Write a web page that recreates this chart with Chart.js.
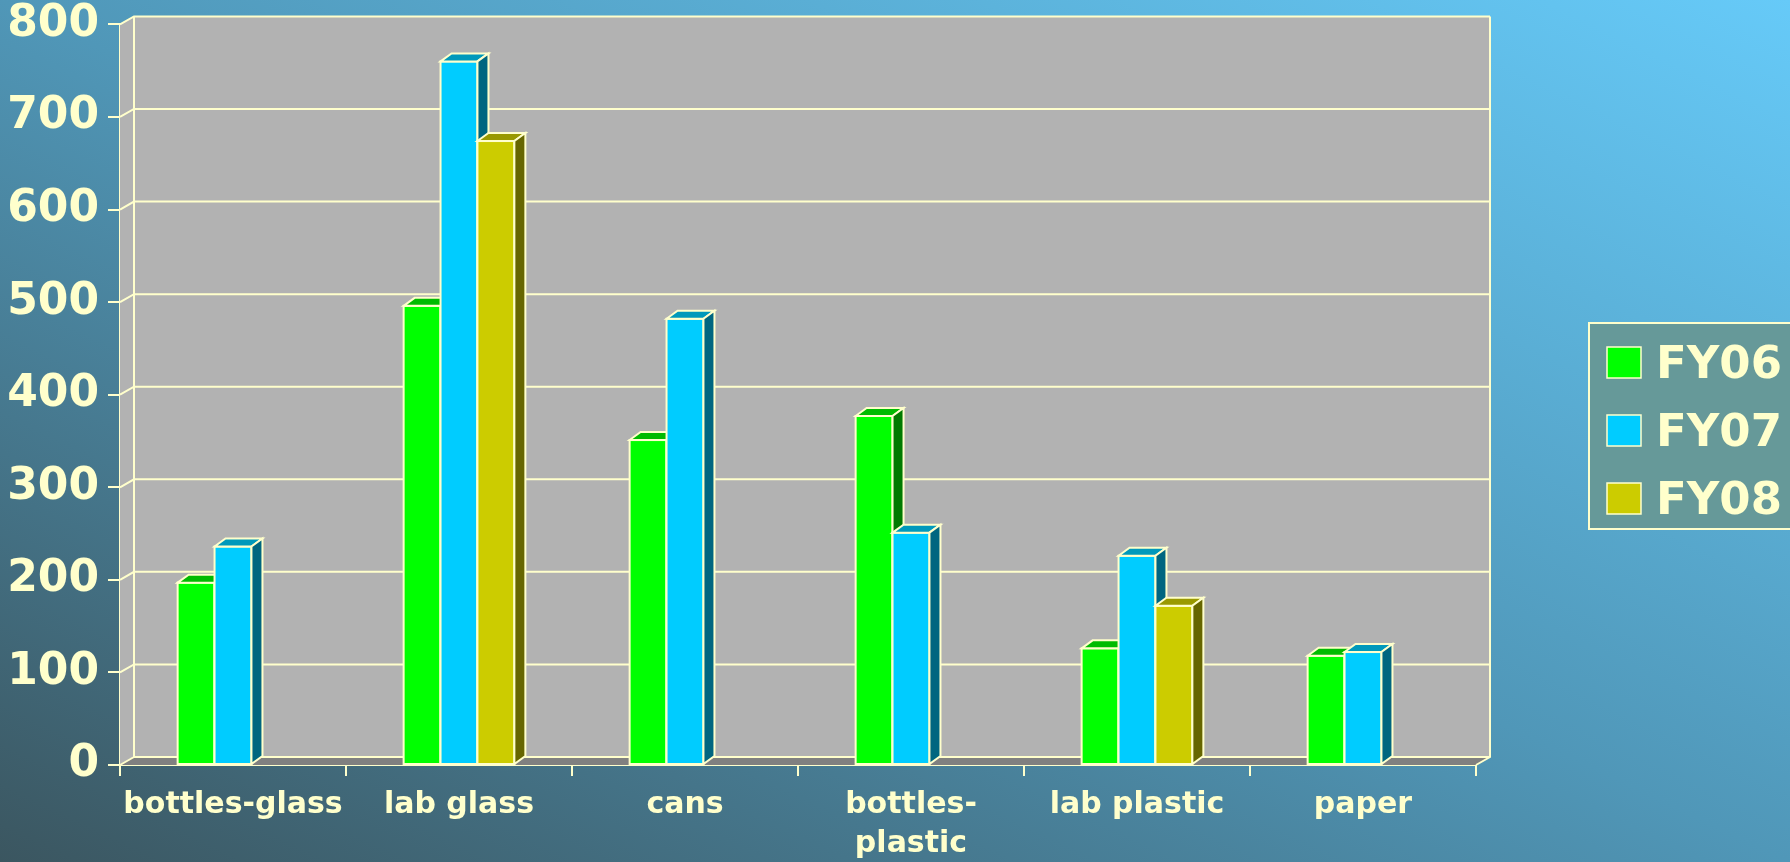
<!DOCTYPE html>
<html>
<head>
<meta charset="utf-8">
<script src="https://cdn.jsdelivr.net/npm/chart.js@4.4.1/dist/chart.umd.min.js"></script>
<style>
html,body{margin:0;padding:0;background:#4f8fae;overflow:hidden;}
canvas{display:block;}
</style>
</head>
<body>
<canvas id="c" width="1790" height="862" style="width:1790px;height:862px"></canvas>
<script>
// ---- data ----
const categories = ['bottles-glass', 'lab glass', 'cans', 'bottles-plastic', 'lab plastic', 'paper'];
const tickLabels = ['bottles-glass', 'lab glass', 'cans', ['bottles-', 'plastic'], 'lab plastic', 'paper'];
const seriesNames = ['FY06', 'FY07', 'FY08'];
const fy06 = [197, 496, 351, 377, 126, 118];
const fy07 = [236, 760, 482, 251, 226, 122];
const fy08 = [null, 674, null, null, 172, null];
const yTicks = [0, 100, 200, 300, 400, 500, 600, 700, 800];

// ---- styles ----
const CREAM = '#ffffcc';
const FRONT = ['#00ff00', '#00ccff', '#cccc00'];
const TOP = ['#00bb00', '#0099bb', '#999900'];
const SIDE = ['#007a00', '#006680', '#666600'];
const FONT = 'DejaVu Sans';
const WDX = 14, WDY = -8;   // wall depth
const BDX = 11, BDY = -8;   // bar depth

const bgPlugin = {
  id: 'bg',
  beforeDraw(chart) {
    const ctx = chart.ctx, W = chart.width, H = chart.height;
    const c = 2 / (1 / (W * W) + 1 / (H * H));
    const g = ctx.createLinearGradient(0, H, c / W, H - c / H);
    g.addColorStop(0, '#3b5660');
    g.addColorStop(0.5, '#5097b8');
    g.addColorStop(1, '#66caf8');
    ctx.save();
    ctx.fillStyle = g;
    ctx.fillRect(0, 0, W, H);
    ctx.restore();
  }
};

const wallPlugin = {
  id: 'walls',
  beforeDatasetsDraw(chart) {
    const ctx = chart.ctx;
    const {left, right, top, bottom} = chart.chartArea;
    const y = chart.scales.y;
    ctx.save();
    ctx.fillStyle = '#b2b2b2';
    ctx.beginPath();
    ctx.moveTo(left, top); ctx.lineTo(left + WDX, top + WDY);
    ctx.lineTo(left + WDX, bottom + WDY); ctx.lineTo(left, bottom);
    ctx.closePath(); ctx.fill();
    ctx.fillRect(left + WDX, top + WDY, right - left, bottom - top);
    ctx.fillStyle = '#808080';
    ctx.beginPath();
    ctx.moveTo(left, bottom); ctx.lineTo(left + WDX, bottom + WDY);
    ctx.lineTo(right + WDX, bottom + WDY); ctx.lineTo(right, bottom);
    ctx.closePath(); ctx.fill();
    ctx.strokeStyle = CREAM;
    ctx.lineWidth = 2;
    ctx.beginPath();
    yTicks.forEach(v => {
      if (v === 0) return;
      const yy = y.getPixelForValue(v);
      ctx.moveTo(left, yy); ctx.lineTo(left + WDX, yy + WDY); ctx.lineTo(right + WDX, yy + WDY);
    });
    ctx.moveTo(left + WDX, top + WDY); ctx.lineTo(left + WDX, bottom + WDY);
    ctx.lineTo(right + WDX, bottom + WDY);
    ctx.moveTo(right + WDX, top + WDY); ctx.lineTo(right + WDX, bottom + WDY);
    ctx.lineTo(right, bottom);
    ctx.moveTo(left, bottom); ctx.lineTo(left + WDX, bottom + WDY);
    ctx.stroke();
    ctx.restore();
  }
};

const bar3dPlugin = {
  id: 'bar3d',
  afterDatasetsDraw(chart) {
    const ctx = chart.ctx;
    ctx.save();
    ctx.lineWidth = 2;
    ctx.strokeStyle = CREAM;
    const n = chart.data.labels.length;
    for (let i = 0; i < n; i++) {
      chart.data.datasets.forEach((ds, d) => {
        const meta = chart.getDatasetMeta(d);
        const el = meta.data[i];
        const v = ds.data[i];
        if (!el || v === null || v === undefined) return;
        const p = el.getProps(['x', 'y', 'base', 'width'], true);
        const l = p.x - p.width / 2, r = p.x + p.width / 2, t = p.y, b = p.base;
        ctx.fillStyle = FRONT[d];
        ctx.fillRect(l, t, r - l, b - t);
        ctx.strokeRect(l, t, r - l, b - t);
        ctx.fillStyle = TOP[d];
        ctx.beginPath();
        ctx.moveTo(l, t); ctx.lineTo(l + BDX, t + BDY); ctx.lineTo(r + BDX, t + BDY); ctx.lineTo(r, t);
        ctx.closePath(); ctx.fill(); ctx.stroke();
        ctx.fillStyle = SIDE[d];
        ctx.beginPath();
        ctx.moveTo(r, t); ctx.lineTo(r + BDX, t + BDY); ctx.lineTo(r + BDX, b + BDY); ctx.lineTo(r, b);
        ctx.closePath(); ctx.fill(); ctx.stroke();
      });
    }
    ctx.restore();
  }
};

const legendPlugin = {
  id: 'legendBox',
  afterDraw(chart) {
    const ctx = chart.ctx;
    ctx.save();
    ctx.fillStyle = '#669999';
    ctx.fillRect(1589, 323, 210, 206);
    ctx.strokeStyle = CREAM;
    ctx.lineWidth = 2;
    ctx.strokeRect(1589, 323, 210, 206);
    ctx.font = 'bold 45px "' + FONT + '"';
    ctx.textBaseline = 'alphabetic';
    ctx.textAlign = 'left';
    chart.data.datasets.forEach((ds, d) => {
      const top = 347 + d * 68;
      ctx.fillStyle = FRONT[d];
      ctx.fillRect(1607, top, 34, 31);
      ctx.lineWidth = 1.5;
      ctx.strokeRect(1607, top, 34, 31);
      ctx.fillStyle = CREAM;
      ctx.fillText(ds.label, 1656, top + 31);
    });
    ctx.restore();
  }
};

const seriesData = [fy06, fy07, fy08];
new Chart(document.getElementById('c'), {
  type: 'bar',
  data: {
    labels: tickLabels,
    datasets: seriesNames.map((name, d) => ({
      label: name,
      data: seriesData[d],
      backgroundColor: FRONT[d],
      borderColor: CREAM,
      borderWidth: 0
    }))
  },
  options: {
    responsive: false,
    animation: false,
    devicePixelRatio: 1,
    layout: {padding: {left: 0, right: 314, top: 18, bottom: 0}},
    datasets: {bar: {categoryPercentage: 0.49, barPercentage: 1}},
    plugins: {legend: {display: false}, tooltip: {enabled: false}},
    scales: {
      x: {
        z: 1,
        grid: {drawOnChartArea: false, drawTicks: true, tickLength: 11, color: CREAM, lineWidth: 2},
        border: {display: true, color: CREAM, width: 2},
        ticks: {color: CREAM, font: {family: FONT, weight: 'bold', size: 30, lineHeight: 1.3}, padding: 10, maxRotation: 0, autoSkip: false},
        afterFit(s) { s.height = 97; }
      },
      y: {
        z: 1,
        min: 0, max: 800,
        afterBuildTicks(s) { s.ticks = yTicks.map(v => ({value: v})); },
        grid: {drawOnChartArea: false, drawTicks: true, tickLength: 12, color: CREAM, lineWidth: 2},
        border: {display: true, color: CREAM, width: 2},
        ticks: {color: CREAM, font: {family: FONT, weight: 'bold', size: 44, lineHeight: 0.7}, padding: 9},
        afterFit(s) { s.width = 120; }
      }
    }
  },
  plugins: [bgPlugin, wallPlugin, bar3dPlugin, legendPlugin]
});
</script>
</body>
</html>
